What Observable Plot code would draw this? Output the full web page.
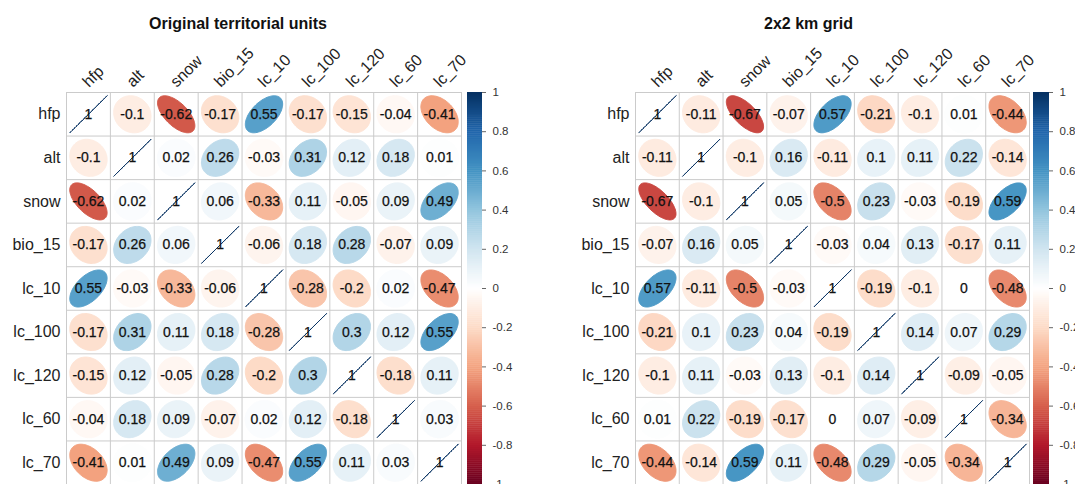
<!DOCTYPE html>
<html><head><meta charset="utf-8">
<script src="https://cdn.jsdelivr.net/npm/d3@7"></script>
<script src="https://cdn.jsdelivr.net/npm/@observablehq/plot@0.6"></script>
<style>
body{margin:0;background:#fff;}
#wrap{display:flex;width:1075px;height:484px;overflow:hidden;background:#fff;}
#wrap svg{flex:none;}
</style></head><body><div id="wrap"></div>
<script>
const variables = ["hfp","alt","snow","bio_15","lc_10","lc_100","lc_120","lc_60","lc_70"];
const corrOriginal = [
  [1, -0.1, -0.62, -0.17, 0.55, -0.17, -0.15, -0.04, -0.41],
  [-0.1, 1, 0.02, 0.26, -0.03, 0.31, 0.12, 0.18, 0.01],
  [-0.62, 0.02, 1, 0.06, -0.33, 0.11, -0.05, 0.09, 0.49],
  [-0.17, 0.26, 0.06, 1, -0.06, 0.18, 0.28, -0.07, 0.09],
  [0.55, -0.03, -0.33, -0.06, 1, -0.28, -0.2, 0.02, -0.47],
  [-0.17, 0.31, 0.11, 0.18, -0.28, 1, 0.3, 0.12, 0.55],
  [-0.15, 0.12, -0.05, 0.28, -0.2, 0.3, 1, -0.18, 0.11],
  [-0.04, 0.18, 0.09, -0.07, 0.02, 0.12, -0.18, 1, 0.03],
  [-0.41, 0.01, 0.49, 0.09, -0.47, 0.55, 0.11, 0.03, 1]
];
const corrGrid = [
  [1, -0.11, -0.67, -0.07, 0.57, -0.21, -0.1, 0.01, -0.44],
  [-0.11, 1, -0.1, 0.16, -0.11, 0.1, 0.11, 0.22, -0.14],
  [-0.67, -0.1, 1, 0.05, -0.5, 0.23, -0.03, -0.19, 0.59],
  [-0.07, 0.16, 0.05, 1, -0.03, 0.04, 0.13, -0.17, 0.11],
  [0.57, -0.11, -0.5, -0.03, 1, -0.19, -0.1, 0, -0.48],
  [-0.21, 0.1, 0.23, 0.04, -0.19, 1, 0.14, 0.07, 0.29],
  [-0.1, 0.11, -0.03, 0.13, -0.1, 0.14, 1, -0.09, -0.05],
  [0.01, 0.22, -0.19, -0.17, 0, 0.07, -0.09, 1, -0.34],
  [-0.44, -0.14, 0.59, 0.11, -0.48, 0.29, -0.05, -0.34, 1]
];
const colorbarTicks = [1, 0.8, 0.6, 0.4, 0.2, 0, -0.2, -0.4, -0.6, -0.8, -1];
const titles = ["Original territorial units", "2x2 km grid"];
const rdbuStops = [-1, -0.8, -0.6, -0.4, -0.2, 0, 0.2, 0.4, 0.6, 0.8, 1];
const rdbuColors = ["#67001F","#B2182B","#D6604D","#F4A582","#FDDBC7","#FFFFFF","#D1E5F0","#92C5DE","#4393C3","#2166AC","#053061"];

const FONT = "'Liberation Sans', Arial, Helvetica, sans-serif";

function panel(matrix, title, L) {
  const n = variables.length;
  const cells = [];
  matrix.forEach((row, i) => row.forEach((r, j) => cells.push({i, j, r, id: i * n + j})));
  const ell = [];
  const N = 90;
  for (const c of cells) {
    const a = Math.acos(Math.max(-1, Math.min(1, c.r))) / 2;
    for (let s = 0; s < N; s++) {
      const k = 2 * Math.PI * s / N;
      ell.push({id: c.id, r: c.r,
        x: c.j + 0.5 + 0.85 * Math.cos(k + a) / 2,
        y: c.i + 0.5 - 0.85 * Math.cos(k - a) / 2});
    }
  }
  const barSteps = d3.range(0, 200).map(s => -1 + (s + 0.5) * 0.01);
  const toBar = v => (1 - v) * n / 2;
  const cw = (L.gridRight - L.gridLeft) / n;
  const bx1 = (L.barLeft - L.gridLeft) / cw;
  const bx2 = (L.barRight - L.gridLeft) / cw;
  return Plot.plot({
    width: L.width,
    height: 484,
    marginLeft: L.gridLeft,
    marginRight: L.width - L.gridRight,
    marginTop: 92,
    marginBottom: 0,
    style: {fontFamily: FONT, background: "#fff", overflow: "visible"},
    x: {domain: [0, n], axis: null},
    y: {domain: [0, n], range: [92, 484], axis: null},
    color: {type: "linear", domain: rdbuStops, range: rdbuColors, interpolate: "rgb"},
    marks: [
      Plot.ruleX(d3.range(n + 1), {x: d => d, y1: 0, y2: n, stroke: "#cbcbcb", strokeWidth: 1}),
      Plot.ruleY(d3.range(n + 1), {y: d => d, x1: 0, x2: n, stroke: "#cbcbcb", strokeWidth: 1}),
      Plot.line(ell, {x: "x", y: "y", z: "id", fill: "r", stroke: "r", strokeWidth: 1, curve: "linear-closed"}),
      Plot.text(cells, {x: c => c.j + 0.5, y: c => c.i + 0.5, text: c => String(c.r), fontSize: 14, fill: "#111", stroke: "#111", strokeWidth: 0.25, fontFamily: FONT}),
      Plot.text(variables, {x: 0, y: (d, i) => i + 0.5, dx: -6, textAnchor: "end", fontSize: 16, fill: "#222", fontFamily: FONT}),
      Plot.text(variables, {x: (d, i) => i + 0.5, y: 0, dx: -3, dy: -8, rotate: -45, textAnchor: "start", fontSize: 16, fill: "#222", fontFamily: FONT}),
      Plot.rect(barSteps, {x1: bx1, x2: bx2, y1: v => toBar(v + 0.005), y2: v => toBar(v - 0.005) + 0.01, fill: v => v}),
      Plot.ruleY(colorbarTicks, {y: v => toBar(v), x1: bx2, x2: bx2 + 4 / cw, stroke: "#666", strokeWidth: 1}),
      Plot.text(colorbarTicks, {x: bx2, y: v => toBar(v), dx: 10, text: v => String(v), textAnchor: "start", fontSize: 11.5, fill: "#333", fontFamily: FONT}),
      Plot.text([title], {frameAnchor: "top", lineAnchor: "middle", dx: L.titleDx, dy: -69, text: d => d, fontSize: 16, fontWeight: "bold", fill: "#111", fontFamily: FONT})
    ]
  });
}

const wrap = document.getElementById("wrap");
wrap.appendChild(panel(corrOriginal, titles[0], {width: 537, gridLeft: 66, gridRight: 461, barLeft: 467, barRight: 482, titleDx: -26}));
wrap.appendChild(panel(corrGrid, titles[1], {width: 538, gridLeft: 98, gridRight: 492, barLeft: 496, barRight: 512, titleDx: -24}));
</script>
</body></html>
